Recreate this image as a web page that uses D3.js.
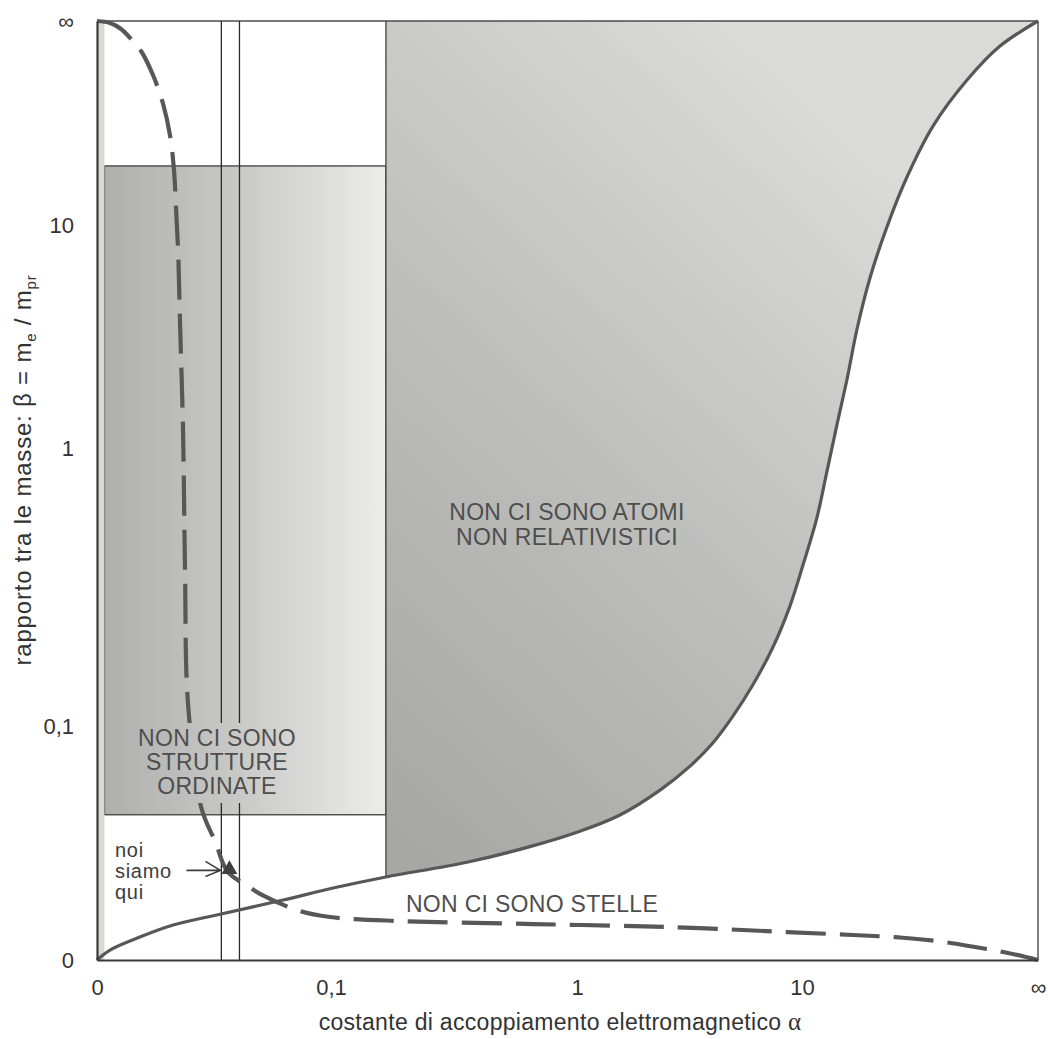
<!DOCTYPE html>
<html>
<head>
<meta charset="utf-8">
<script src="https://cdn.jsdelivr.net/npm/d3@7"></script>
<style>
  body { margin: 0; background: #ffffff; }
  svg { display: block; font-family: "Liberation Sans", Arial, Helvetica, sans-serif; }
</style>
</head>
<body>
<svg id="chart" width="1048" height="1039"></svg>
<script>
// ---- Tick values of the two compactified axes (0 … ∞) ----
const alphaTicks = [0, 0.1, 1, 10, Infinity];
const alphaTickLabels = ["0", "0,1", "1", "10", "∞"];
const betaTicks = [0, 0.1, 1, 10, Infinity];
const betaTickLabels = ["0", "0,1", "1", "10", "∞"];

// ---- Solid boundary: β as a function of α ----
const solidAlpha = [0, 1.3e-23, 1.3e-7, 1.5e-4, 5.5e-3, 0.041, 0.103, 0.20, 0.43, 0.72,
  1.024, 1.416, 1.987, 2.61, 3.23, 4.03, 5.07, 6.5, 8.3, 10.2,
  12.7, 15.2, 18.4, 22.7, 28.6, 39.6, 65.9, 140, 555, 1.43e4, 7.4e7, Infinity];
const solidBeta = [0, 1.6e-30, 1.2e-13, 3.3e-9, 3.8e-7, 1.26e-5, 8.7e-5, 3.2e-4, 1.15e-3, 3.3e-3,
  6.8e-3, 0.0129, 0.0276, 0.0486, 0.0743, 0.1134, 0.162, 0.2323, 0.332, 0.457,
  0.63, 0.86, 1.21, 1.77, 2.81, 4.81, 9.7, 28.8, 216, 2.1e4, 2.1e10, Infinity];

// ---- Dashed boundary ----
const dashedAlpha = [0, 1.3e-23, 4.2e-13, 1.9e-9, 1.9e-7, 5.5e-6, 3.7e-5, 1.02e-4, 1.66e-4, 2.1e-4, 2.66e-4,
  3.2e-4, 4.3e-4, 5.2e-4, 6.7e-4, 1.8e-3, 4.2e-3, 1 / 137, 0.0163, 0.0241, 0.058,
  0.0985, 0.232, 0.72, 2.11, 7.95, 25.9, 105, 891, 5e4, 1e10, Infinity];
const dashedBeta = [Infinity, 1e130, 4e32, 2.5e14, 4.2e8, 5.5e4, 1.05e3, 128, 34.3, 13.3, 6.43,
  2.96, 1.16, 0.428, 0.1326, 0.0169, 3.9e-3, 1 / 1836, 1.02e-4, 3.1e-5, 9.3e-7,
  1.3e-7, 2.5e-8, 5.7e-9, 1.05e-9, 2.4e-11, 1.3e-12, 6.3e-14, 8.5e-17, 1.3e-23, 4e-43, 0];

// ---- Constraints and our universe ----
const ourAlpha = 1 / 137;
const ourBeta = 1 / 1836;
const alphaWindow = [1 / 180, 1 / 85];
const atomLimitAlpha = 0.2;
const structureBeta = [0.013, 40];
const edgeAlpha = 1e-40;

// ---- Scales: log10 squeezed through arctan so 0 and ∞ fit on the axes ----
const squeeze = v => Math.atan(Math.log10(v));
const xs = d3.scaleLinear().domain(alphaTicks.map(squeeze)).range([97, 331, 577, 802, 1038]);
const ys = d3.scaleLinear().domain(betaTicks.map(squeeze)).range([960, 726, 448, 225, 21]);
const X = v => xs(squeeze(v));
const Y = v => ys(squeeze(v));

const svg = d3.select("#chart");
const defs = svg.append("defs");
const ink = "#575757";

// gradients
const gAtoms = defs.append("linearGradient").attr("id", "gAtoms")
  .attr("gradientUnits", "userSpaceOnUse")
  .attr("x1", X(atomLimitAlpha)).attr("y1", Y(0.01)).attr("x2", X(1e3)).attr("y2", Y(10));
gAtoms.append("stop").attr("offset", 0).attr("stop-color", "#a7a8a5");
gAtoms.append("stop").attr("offset", 0.5).attr("stop-color", "#bebfbc");
gAtoms.append("stop").attr("offset", 1).attr("stop-color", "#dadbd8");

const gStruct = defs.append("linearGradient").attr("id", "gStruct")
  .attr("gradientUnits", "userSpaceOnUse")
  .attr("x1", X(edgeAlpha)).attr("y1", Y(0.5)).attr("x2", X(atomLimitAlpha)).attr("y2", Y(0.5));
gStruct.append("stop").attr("offset", 0).attr("stop-color", "#afb0ae");
gStruct.append("stop").attr("offset", 0.45).attr("stop-color", "#c7c8c6");
gStruct.append("stop").attr("offset", 1).attr("stop-color", "#ececea");

defs.append("clipPath").attr("id", "atomClip").append("rect")
  .attr("x", X(atomLimitAlpha)).attr("y", Y(Infinity))
  .attr("width", X(Infinity) - X(atomLimitAlpha)).attr("height", Y(0) - Y(Infinity));

// ---- Region: no ordered structures ----
svg.append("rect")
  .attr("x", X(edgeAlpha)).attr("y", Y(structureBeta[1]))
  .attr("width", X(atomLimitAlpha) - X(edgeAlpha))
  .attr("height", Y(structureBeta[0]) - Y(structureBeta[1]))
  .attr("fill", "url(#gStruct)").attr("stroke", "#4a4a4a").attr("stroke-width", 1.4);

// thin band along α = 0
svg.append("rect")
  .attr("x", X(0)).attr("y", Y(Infinity))
  .attr("width", X(edgeAlpha) - X(0)).attr("height", Y(0) - Y(Infinity))
  .attr("fill", "#d8d8d6");

// ---- Region: no non-relativistic atoms ----
const curve = d3.curveCatmullRom.alpha(0.5);
const solidPts = solidAlpha.map((a, i) => [X(a), Y(solidBeta[i])]);
const dashedPts = dashedAlpha.map((a, i) => [X(a), Y(dashedBeta[i])]);

svg.append("path")
  .attr("clip-path", "url(#atomClip)")
  .attr("d", d3.area().curve(curve).x(d => d[0]).y0(Y(Infinity)).y1(d => d[1])(solidPts))
  .attr("fill", "url(#gAtoms)");

const iLimit = solidAlpha.indexOf(atomLimitAlpha);
svg.append("line")
  .attr("x1", X(atomLimitAlpha)).attr("x2", X(atomLimitAlpha))
  .attr("y1", Y(Infinity)).attr("y2", Y(solidBeta[iLimit]))
  .attr("stroke", "#4a4a4a").attr("stroke-width", 1.4);

// ---- Frame ----
svg.append("line").attr("x1", X(0)).attr("x2", X(Infinity)).attr("y1", Y(Infinity)).attr("y2", Y(Infinity))
  .attr("stroke", "#4a4a4a").attr("stroke-width", 1.6);
svg.append("line").attr("x1", X(Infinity)).attr("x2", X(Infinity)).attr("y1", Y(Infinity)).attr("y2", Y(0))
  .attr("stroke", "#4a4a4a").attr("stroke-width", 1.4);

// ---- Labels (drawn before the lines so the knock-out box can be measured) ----
const labels = svg.append("g").attr("fill", "#4e4e4e").attr("font-size", 23)
  .attr("letter-spacing", 0.3).attr("text-anchor", "middle");

const structText = labels.append("text").attr("x", 217).attr("y", 746);
["NON CI SONO", "STRUTTURE", "ORDINATE"].forEach((s, i) =>
  structText.append("tspan").attr("x", 217).attr("dy", i === 0 ? 0 : 24).text(s));

const atomText = labels.append("text").attr("x", 567).attr("y", 520);
["NON CI SONO ATOMI", "NON RELATIVISTICI"].forEach((s, i) =>
  atomText.append("tspan").attr("x", 567).attr("dy", i === 0 ? 0 : 25).text(s));

labels.append("text").attr("x", 532).attr("y", 912).text("NON CI SONO STELLE");

const hereText = svg.append("text").attr("x", 115).attr("y", 857)
  .attr("font-size", 20).attr("letter-spacing", 0.7).attr("fill", "#3c3c3c");
["noi", "siamo", "qui"].forEach((s, i) =>
  hereText.append("tspan").attr("x", 115).attr("dy", i === 0 ? 0 : 21).text(s));

// knock-out mask behind the structures label
const bb = structText.node().getBBox();
const mask = defs.append("mask").attr("id", "knock").attr("maskUnits", "userSpaceOnUse")
  .attr("x", 0).attr("y", 0).attr("width", 1048).attr("height", 1039);
mask.append("rect").attr("width", 1048).attr("height", 1039).attr("fill", "#fff");
mask.append("rect").attr("x", bb.x - 4).attr("y", bb.y - 2).attr("width", bb.width + 8).attr("height", bb.height + 6)
  .attr("fill", "#000");

const masked = svg.append("g").attr("mask", "url(#knock)");

// α window lines
masked.selectAll("line.win").data(alphaWindow).join("line")
  .attr("class", "win")
  .attr("x1", d => X(d)).attr("x2", d => X(d))
  .attr("y1", Y(Infinity)).attr("y2", Y(0))
  .attr("stroke", "#2a2a2a").attr("stroke-width", 1.3);

// dashed boundary
masked.append("path")
  .attr("d", d3.line().curve(curve)(dashedPts))
  .attr("fill", "none").attr("stroke", ink).attr("stroke-width", 4.2)
  .attr("stroke-dasharray", "40 14");

// solid boundary
svg.append("path")
  .attr("d", d3.line().curve(curve)(solidPts))
  .attr("fill", "none").attr("stroke", ink).attr("stroke-width", 3.2);

// ---- Our universe ----
const ux = X(ourAlpha), uy = Y(ourBeta);
svg.append("path")
  .attr("transform", `translate(${ux + 2},${uy - 2})`)
  .attr("d", d3.symbol().type(d3.symbolTriangle).size(110)())
  .attr("fill", "#3f3f3f");
const tipX = ux - 7, tipY = uy - 1;
svg.append("path")
  .attr("d", `M${tipX - 34},${tipY}L${tipX},${tipY}M${tipX - 15},${tipY - 9}L${tipX},${tipY}L${tipX - 15},${tipY + 6}`)
  .attr("fill", "none").attr("stroke", "#3c3c3c").attr("stroke-width", 1.6);

// ---- Axes ----
const axisStyle = g => {
  g.attr("font-family", null).attr("font-size", 22);
  g.selectAll("text").attr("fill", "#333");
  g.select(".domain").attr("stroke", "#3a3a3a").attr("stroke-width", 2.2);
};
svg.append("g").attr("transform", `translate(0,${Y(0)})`)
  .call(d3.axisBottom(xs).tickValues(alphaTicks.map(squeeze))
    .tickFormat(d => alphaTickLabels[alphaTicks.map(squeeze).indexOf(d)])
    .tickSize(0).tickPadding(19))
  .call(axisStyle);
svg.append("g").attr("transform", `translate(${X(0)},0)`)
  .call(d3.axisLeft(ys).tickValues(betaTicks.map(squeeze))
    .tickFormat(d => betaTickLabels[betaTicks.map(squeeze).indexOf(d)])
    .tickSize(0).tickPadding(23))
  .call(axisStyle);

// axis titles
const xTitle = svg.append("text").attr("x", 560).attr("y", 1030)
  .attr("text-anchor", "middle").attr("font-size", 23).attr("letter-spacing", 0.3).attr("fill", "#333");
xTitle.append("tspan").text("costante di accoppiamento elettromagnetico ");
xTitle.append("tspan").attr("font-family", "'Liberation Serif', 'DejaVu Serif', serif").attr("font-size", 25).text("α");

const yTitle = svg.append("text").attr("transform", "translate(31,470) rotate(-90)")
  .attr("text-anchor", "middle").attr("font-size", 24).attr("letter-spacing", 0.8).attr("fill", "#333");
yTitle.append("tspan").text("rapporto tra le masse: β = m");
yTitle.append("tspan").attr("font-size", 15).attr("dy", 5).text("e");
yTitle.append("tspan").attr("dy", -5).text(" / m");
yTitle.append("tspan").attr("font-size", 15).attr("dy", 5).text("pr");
</script>
</body>
</html>
